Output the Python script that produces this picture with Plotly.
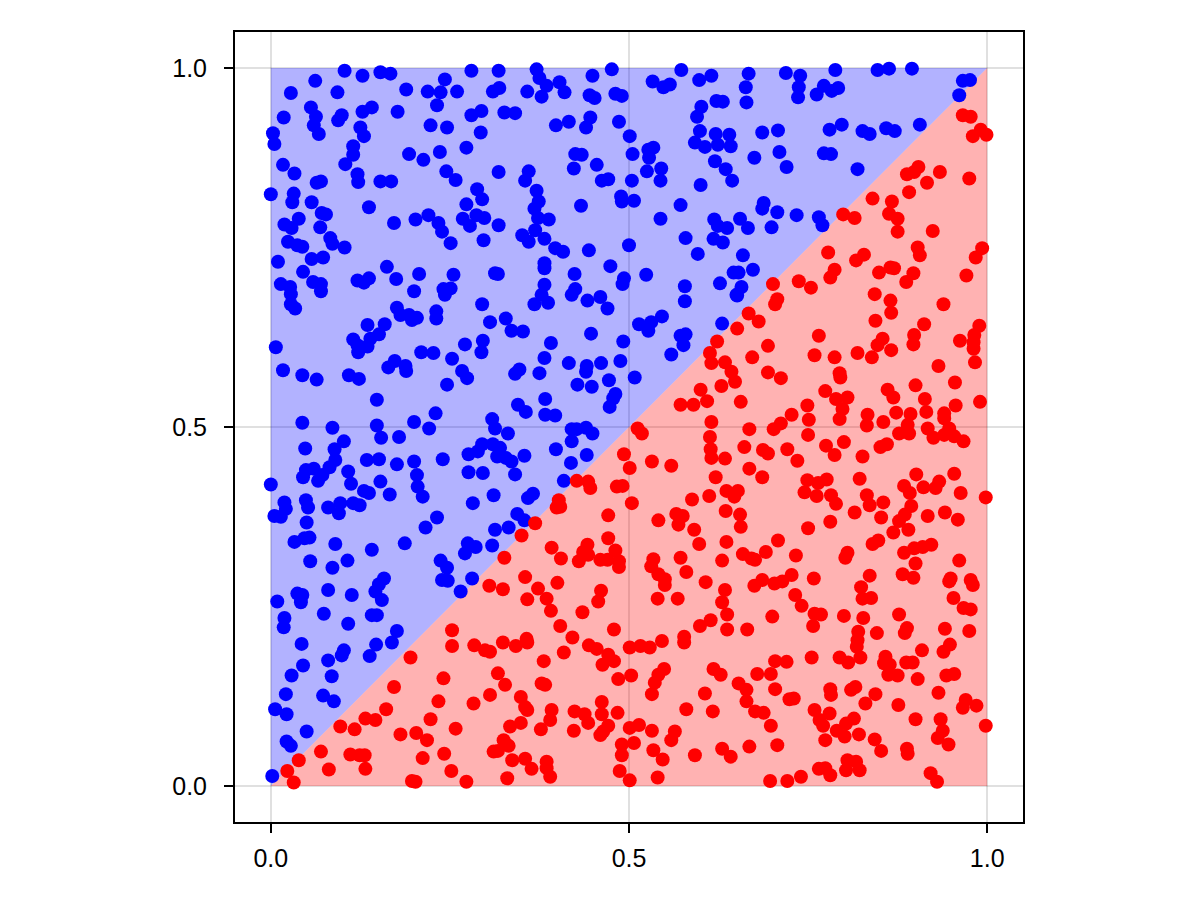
import plotly.graph_objects as go

# Band region definition (x grid and lower/upper boundaries)
band_x = [0.0, 1.0]
blue_lower = [0.0, 1.0]
blue_upper = [1.0, 1.0]
red_lower = [0.0, 0.0]
red_upper = [0.0, 1.0]

blue_pts = [
(0.103,0.996),(0.128,0.989),(0.153,0.994),(0.167,0.992),(0.062,0.982),(0.028,0.965),(0.093,0.966),(0.189,0.970),(0.219,0.967),(0.237,0.966),(0.243,0.984),(0.260,0.967),(0.280,0.996),(0.310,0.967),(0.232,0.948),(0.056,0.945),(0.018,0.931),(0.063,0.932),(0.060,0.920),(0.067,0.908),(0.099,0.934),(0.094,0.927),(0.128,0.939),(0.141,0.945),(0.177,0.939),(0.280,0.934),(0.294,0.940),(0.003,0.909),(0.005,0.894),(0.125,0.917),(0.130,0.905),(0.223,0.920),(0.246,0.917),(0.293,0.910),(0.115,0.891),(0.115,0.879),(0.104,0.866),(0.193,0.880),(0.213,0.872),(0.236,0.883),(0.273,0.889),(0.017,0.865),(0.033,0.853),(0.121,0.852),(0.122,0.841),(0.064,0.840),(0.070,0.842),(0.153,0.842),(0.168,0.842),(0.245,0.856),(0.258,0.844),(0.000,0.824),(0.032,0.825),(0.030,0.813),(0.057,0.813),(0.137,0.806),(0.071,0.798),(0.077,0.796),(0.288,0.831),(0.295,0.817),(0.273,0.810),(0.019,0.782),(0.029,0.777),(0.039,0.790),(0.069,0.778),(0.172,0.784),(0.202,0.789),(0.220,0.795),(0.234,0.784),(0.239,0.772),(0.268,0.790),(0.278,0.780),(0.287,0.795),(0.298,0.791),
(0.318,0.996),(0.319,0.972),(0.371,0.998),(0.375,0.986),(0.385,0.975),(0.403,0.980),(0.410,0.966),(0.358,0.967),(0.378,0.960),(0.449,0.989),(0.476,0.998),(0.445,0.962),(0.452,0.958),(0.481,0.964),(0.490,0.961),(0.326,0.938),(0.341,0.937),(0.398,0.920),(0.416,0.925),(0.446,0.931),(0.440,0.917),(0.486,0.925),(0.501,0.905),(0.573,0.997),(0.533,0.981),(0.548,0.973),(0.557,0.977),(0.598,0.983),(0.615,0.989),(0.622,0.954),(0.631,0.953),(0.601,0.946),(0.595,0.932),(0.599,0.912),(0.621,0.908),(0.640,0.907),(0.592,0.896),(0.606,0.890),(0.624,0.893),(0.642,0.891),(0.620,0.870),(0.635,0.859),(0.644,0.843),(0.600,0.837),(0.425,0.880),(0.434,0.879),(0.423,0.860),(0.455,0.865),(0.462,0.843),(0.471,0.845),(0.360,0.856),(0.355,0.843),(0.318,0.855),(0.505,0.880),(0.527,0.886),(0.534,0.889),(0.528,0.875),(0.525,0.856),(0.545,0.860),(0.544,0.843),(0.504,0.843),(0.371,0.829),(0.374,0.814),(0.368,0.804),(0.373,0.791),(0.388,0.789),(0.369,0.774),(0.351,0.767),(0.433,0.808),(0.489,0.821),(0.490,0.814),(0.507,0.815),(0.572,0.809),(0.544,0.790),(0.318,0.781),(0.619,0.789),(0.624,0.780),(0.637,0.777),
(0.667,0.992),(0.663,0.973),(0.664,0.952),(0.719,0.993),(0.739,0.989),(0.737,0.973),(0.736,0.959),(0.762,0.963),(0.772,0.975),(0.783,0.968),(0.792,0.972),(0.788,0.997),(0.847,0.997),(0.863,0.999),(0.895,0.999),(0.966,0.982),(0.976,0.983),(0.961,0.962),(0.686,0.910),(0.708,0.913),(0.780,0.914),(0.797,0.921),(0.826,0.912),(0.836,0.908),(0.859,0.916),(0.871,0.912),(0.906,0.921),(0.675,0.875),(0.710,0.883),(0.720,0.862),(0.772,0.881),(0.782,0.880),(0.819,0.859),(0.688,0.812),(0.686,0.804),(0.707,0.799),(0.734,0.795),(0.765,0.792),(0.770,0.781),(0.655,0.790),(0.666,0.777),(0.699,0.778),
(0.024,0.758),(0.037,0.753),(0.044,0.751),(0.083,0.763),(0.086,0.755),(0.103,0.750),(0.010,0.730),(0.057,0.734),(0.073,0.736),(0.045,0.716),(0.014,0.699),(0.027,0.695),(0.028,0.685),(0.059,0.702),(0.070,0.699),(0.070,0.689),(0.028,0.671),(0.034,0.665),(0.121,0.704),(0.130,0.701),(0.137,0.707),(0.162,0.723),(0.175,0.706),(0.207,0.713),(0.200,0.689),(0.251,0.756),(0.297,0.760),(0.255,0.712),(0.241,0.692),(0.251,0.693),(0.243,0.684),(0.313,0.714),(0.295,0.671),(0.306,0.646),(0.176,0.666),(0.181,0.656),(0.193,0.656),(0.204,0.652),(0.197,0.649),(0.231,0.661),(0.231,0.651),(0.135,0.642),(0.159,0.643),(0.151,0.629),(0.139,0.623),(0.135,0.612),(0.115,0.622),(0.121,0.614),(0.122,0.604),(0.007,0.611),(0.271,0.615),(0.296,0.620),(0.294,0.604),(0.210,0.604),(0.227,0.603),(0.253,0.595),(0.173,0.592),(0.164,0.583),(0.188,0.585),(0.189,0.578),(0.267,0.578),(0.274,0.568),(0.246,0.559),(0.017,0.579),(0.044,0.572),(0.064,0.566),(0.109,0.572),(0.123,0.567),(0.148,0.538),(0.230,0.519),
(0.360,0.758),(0.382,0.762),(0.397,0.749),(0.408,0.744),(0.444,0.746),(0.500,0.753),(0.382,0.728),(0.382,0.721),(0.317,0.713),(0.424,0.713),(0.474,0.724),(0.493,0.707),(0.491,0.699),(0.524,0.712),(0.382,0.698),(0.378,0.684),(0.368,0.671),(0.387,0.673),(0.425,0.692),(0.420,0.684),(0.442,0.676),(0.460,0.681),(0.470,0.665),(0.579,0.763),(0.618,0.762),(0.631,0.757),(0.596,0.741),(0.578,0.696),(0.578,0.675),(0.627,0.700),(0.646,0.715),(0.650,0.684),(0.328,0.651),(0.336,0.634),(0.352,0.633),(0.447,0.630),(0.391,0.617),(0.382,0.596),(0.375,0.575),(0.341,0.574),(0.347,0.580),(0.416,0.589),(0.441,0.585),(0.440,0.577),(0.461,0.589),(0.488,0.592),(0.492,0.619),(0.514,0.643),(0.531,0.646),(0.546,0.654),(0.527,0.634),(0.572,0.627),(0.579,0.629),(0.576,0.614),(0.559,0.601),(0.630,0.644),(0.508,0.569),(0.472,0.565),(0.428,0.559),(0.448,0.556),(0.481,0.546),(0.478,0.540),(0.473,0.528),(0.383,0.539),(0.345,0.531),(0.356,0.521),(0.383,0.517),(0.397,0.516),
(0.659,0.739),(0.653,0.715),(0.673,0.719),(0.657,0.695),(0.651,0.683),
(0.044,0.506),(0.086,0.499),(0.148,0.502),(0.154,0.485),(0.179,0.486),(0.200,0.507),(0.221,0.498),(0.309,0.511),(0.313,0.498),(0.048,0.470),(0.102,0.480),(0.089,0.469),(0.090,0.454),(0.082,0.444),(0.072,0.433),(0.066,0.425),(0.060,0.442),(0.049,0.440),(0.045,0.430),(0.108,0.438),(0.112,0.421),(0.134,0.454),(0.151,0.455),(0.176,0.448),(0.200,0.452),(0.204,0.433),(0.205,0.417),(0.212,0.403),(0.153,0.424),(0.130,0.411),(0.137,0.408),(0.166,0.406),(0.240,0.455),(0.276,0.462),(0.289,0.466),(0.295,0.476),(0.310,0.476),(0.316,0.459),(0.276,0.437),(0.296,0.436),(0.311,0.405),(0.282,0.394),(0.000,0.420),(0.019,0.395),(0.021,0.386),(0.005,0.376),(0.014,0.375),(0.049,0.398),(0.052,0.388),(0.080,0.388),(0.097,0.394),(0.095,0.380),(0.115,0.394),(0.124,0.391),(0.050,0.367),(0.033,0.340),(0.047,0.345),(0.054,0.346),(0.090,0.337),(0.055,0.313),(0.086,0.304),(0.107,0.314),(0.141,0.329),(0.187,0.338),(0.216,0.360),(0.232,0.374),(0.313,0.357),(0.275,0.338),(0.286,0.333),(0.309,0.335),(0.271,0.324),(0.237,0.314),(0.246,0.304),(0.239,0.287),(0.247,0.286),(0.281,0.289),(0.158,0.289),(0.151,0.281),(0.146,0.271),(0.080,0.273),(0.037,0.268),(0.044,0.266),(0.113,0.266),(0.265,0.271),
(0.331,0.491),(0.320,0.471),(0.328,0.457),(0.336,0.452),(0.354,0.460),(0.341,0.434),(0.359,0.401),(0.366,0.407),(0.344,0.379),(0.354,0.370),(0.332,0.360),(0.420,0.497),(0.427,0.497),(0.440,0.499),(0.449,0.491),(0.420,0.480),(0.398,0.469),(0.441,0.461),(0.419,0.450),(0.409,0.425),
(0.009,0.257),(0.042,0.256),(0.155,0.259),(0.019,0.234),(0.018,0.221),(0.074,0.240),(0.108,0.226),(0.141,0.238),(0.148,0.238),(0.176,0.216),(0.169,0.200),(0.147,0.197),(0.138,0.181),(0.043,0.198),(0.102,0.189),(0.099,0.182),(0.080,0.175),(0.045,0.168),(0.029,0.154),(0.085,0.153),(0.021,0.128),(0.073,0.126),(0.088,0.118),(0.006,0.107),(0.022,0.100),(0.050,0.076),(0.022,0.062),(0.028,0.056),(0.002,0.014),
]

red_pts = [
(0.966,0.934),(0.977,0.932),(0.991,0.914),(0.980,0.905),(0.999,0.907),(0.888,0.852),(0.898,0.855),(0.904,0.862),(0.934,0.855),(0.916,0.840),(0.891,0.827),(0.975,0.846),(0.840,0.818),(0.867,0.814),(0.863,0.797),(0.875,0.790),(0.875,0.772),(0.924,0.773),(0.799,0.796),(0.815,0.791),
(0.623,0.619),(0.613,0.603),(0.615,0.589),(0.634,0.590),(0.643,0.577),(0.648,0.563),(0.629,0.557),(0.600,0.552),(0.609,0.536),(0.572,0.531),(0.590,0.531),
(0.778,0.743),(0.817,0.732),(0.828,0.740),(0.903,0.750),(0.906,0.739),(0.984,0.736),(0.993,0.749),(0.701,0.699),(0.737,0.703),(0.754,0.694),(0.781,0.708),(0.787,0.719),(0.849,0.715),(0.865,0.722),(0.870,0.721),(0.887,0.702),(0.897,0.714),(0.971,0.711),(0.707,0.678),(0.704,0.671),(0.667,0.658),(0.681,0.647),(0.651,0.637),(0.843,0.685),(0.865,0.676),(0.866,0.659),(0.844,0.648),(0.939,0.671),(0.912,0.643),(0.898,0.628),(0.897,0.615),(0.962,0.620),(0.989,0.641),(0.982,0.628),(0.981,0.618),(0.981,0.609),(0.983,0.590),(0.765,0.627),(0.694,0.613),(0.672,0.597),(0.759,0.600),(0.787,0.597),(0.819,0.603),(0.839,0.597),(0.847,0.614),(0.854,0.623),(0.866,0.607),(0.932,0.585),(0.955,0.562),(0.694,0.576),(0.712,0.568),(0.794,0.575),(0.795,0.569),(0.656,0.535),(0.774,0.550),(0.789,0.539),(0.805,0.541),(0.798,0.525),(0.861,0.552),(0.869,0.541),(0.900,0.558),(0.913,0.539),(0.956,0.530),(0.990,0.535),(0.749,0.530),(0.727,0.517),(0.833,0.517),(0.873,0.520),(0.893,0.518),(0.915,0.521),(0.940,0.519),
(0.512,0.498),(0.518,0.491),(0.615,0.507),(0.613,0.486),(0.614,0.469),(0.615,0.457),(0.634,0.456),(0.493,0.462),(0.501,0.443),(0.532,0.452),(0.559,0.446),(0.621,0.430),(0.427,0.425),(0.443,0.424),(0.446,0.415),(0.483,0.417),(0.491,0.418),(0.504,0.394),(0.402,0.398),(0.404,0.389),(0.399,0.388),(0.612,0.404),(0.588,0.399),(0.636,0.411),(0.647,0.403),(0.471,0.377),(0.369,0.366),(0.350,0.349),(0.326,0.318),(0.392,0.332),(0.405,0.317),(0.430,0.313),(0.436,0.326),(0.442,0.336),(0.443,0.322),(0.460,0.315),(0.470,0.315),(0.471,0.345),(0.481,0.328),(0.486,0.313),(0.486,0.305),(0.541,0.370),(0.566,0.379),(0.575,0.376),(0.569,0.364),(0.591,0.357),(0.635,0.383),(0.598,0.337),(0.636,0.340),(0.630,0.314),(0.572,0.318),(0.580,0.298),(0.534,0.316),(0.531,0.306),(0.541,0.295),(0.550,0.288),(0.550,0.280),(0.607,0.284),(0.634,0.273),(0.355,0.291),(0.373,0.275),(0.400,0.283),(0.324,0.274),(0.461,0.272),
(0.305,0.279),
(0.751,0.510),(0.794,0.511),(0.832,0.502),(0.855,0.507),(0.889,0.503),(0.891,0.491),(0.877,0.491),(0.917,0.498),(0.925,0.485),(0.940,0.512),(0.947,0.498),(0.940,0.489),(0.954,0.487),(0.967,0.480),(0.668,0.497),(0.702,0.497),(0.712,0.505),(0.750,0.489),(0.661,0.472),(0.687,0.468),(0.694,0.463),(0.721,0.469),(0.735,0.453),(0.775,0.474),(0.787,0.461),(0.800,0.479),(0.826,0.459),(0.851,0.472),(0.860,0.476),(0.668,0.442),(0.686,0.430),(0.749,0.426),(0.764,0.422),(0.776,0.427),(0.745,0.409),(0.762,0.404),(0.782,0.405),(0.789,0.393),(0.652,0.411),(0.822,0.428),(0.832,0.405),(0.836,0.391),(0.855,0.395),(0.901,0.434),(0.884,0.418),(0.892,0.408),(0.911,0.416),(0.928,0.415),(0.933,0.424),(0.954,0.435),(0.963,0.408),(0.998,0.402),(0.894,0.390),(0.885,0.378),(0.877,0.369),(0.852,0.374),(0.815,0.381),(0.781,0.368),(0.750,0.359),(0.655,0.378),(0.656,0.361),(0.917,0.376),(0.941,0.381),(0.959,0.371),(0.890,0.357),(0.869,0.353),(0.708,0.342),(0.848,0.342),(0.840,0.337),(0.659,0.323),(0.671,0.317),(0.676,0.315),(0.691,0.326),(0.733,0.321),(0.805,0.325),(0.802,0.318),(0.884,0.325),(0.898,0.331),(0.910,0.333),(0.922,0.336),(0.900,0.310),(0.961,0.314),(0.882,0.295),(0.897,0.290),(0.836,0.293),(0.758,0.289),(0.727,0.294),(0.686,0.287),(0.675,0.279),(0.703,0.282),(0.714,0.285),(0.824,0.277),(0.732,0.266),(0.949,0.289),(0.947,0.285),(0.977,0.287),(0.980,0.280),
(0.253,0.217),(0.253,0.195),(0.284,0.196),(0.299,0.189),(0.306,0.187),(0.195,0.179),(0.172,0.138),(0.241,0.150),(0.234,0.118),(0.283,0.115),(0.306,0.127),(0.161,0.107),(0.132,0.094),(0.146,0.092),(0.097,0.083),(0.117,0.079),(0.223,0.093),(0.258,0.080),(0.181,0.072),(0.203,0.074),(0.218,0.064),(0.070,0.048),(0.111,0.044),(0.124,0.043),(0.131,0.043),(0.039,0.036),(0.023,0.021),(0.032,0.005),(0.081,0.023),(0.132,0.024),(0.212,0.039),(0.242,0.045),(0.252,0.021),(0.197,0.007),(0.202,0.006),(0.273,0.006),(0.311,0.048),
(0.358,0.260),(0.385,0.261),(0.391,0.244),(0.435,0.242),(0.457,0.257),(0.404,0.223),(0.421,0.207),(0.324,0.200),(0.342,0.195),(0.357,0.205),(0.358,0.200),(0.409,0.186),(0.381,0.174),(0.444,0.196),(0.455,0.191),(0.471,0.183),(0.479,0.174),(0.463,0.169),(0.479,0.218),(0.485,0.149),(0.501,0.193),(0.516,0.195),(0.529,0.193),(0.546,0.202),(0.503,0.154),(0.540,0.261),(0.568,0.261),(0.577,0.208),(0.577,0.200),(0.599,0.223),(0.614,0.231),(0.630,0.256),(0.637,0.239),(0.637,0.218),(0.317,0.157),(0.327,0.141),(0.378,0.143),(0.383,0.141),(0.349,0.124),(0.355,0.110),(0.358,0.106),(0.392,0.106),(0.390,0.092),(0.377,0.079),(0.334,0.083),(0.349,0.088),(0.424,0.104),(0.438,0.100),(0.443,0.088),(0.423,0.077),(0.462,0.117),(0.462,0.100),(0.484,0.102),(0.471,0.084),(0.460,0.071),(0.464,0.076),(0.501,0.081),(0.514,0.085),(0.532,0.077),(0.549,0.163),(0.541,0.155),(0.536,0.144),(0.532,0.128),(0.618,0.163),(0.628,0.155),(0.606,0.129),(0.580,0.107),(0.617,0.104),(0.325,0.064),(0.332,0.056),(0.317,0.049),(0.337,0.036),(0.355,0.038),(0.364,0.024),(0.385,0.034),(0.385,0.025),(0.390,0.013),(0.330,0.011),(0.490,0.058),(0.490,0.043),(0.507,0.060),(0.487,0.021),(0.501,0.008),(0.534,0.050),(0.547,0.037),(0.540,0.012),(0.564,0.076),(0.559,0.064),(0.592,0.043),(0.630,0.052),(0.642,0.041),
(0.741,0.251),(0.826,0.261),(0.838,0.262),(0.953,0.262),(0.967,0.248),(0.977,0.246),(0.700,0.236),(0.665,0.218),(0.759,0.240),(0.768,0.239),(0.757,0.223),(0.800,0.237),(0.827,0.234),(0.877,0.239),(0.888,0.220),(0.885,0.213),(0.941,0.219),(0.975,0.216),(0.820,0.215),(0.819,0.203),(0.818,0.194),(0.846,0.213),(0.909,0.189),(0.948,0.197),(0.939,0.187),(0.704,0.174),(0.720,0.173),(0.755,0.179),(0.794,0.179),(0.806,0.172),(0.823,0.179),(0.858,0.180),(0.856,0.171),(0.864,0.169),(0.887,0.172),(0.896,0.172),(0.679,0.156),(0.698,0.156),(0.862,0.155),(0.875,0.154),(0.903,0.149),(0.943,0.154),(0.954,0.156),(0.653,0.143),(0.664,0.134),(0.664,0.118),(0.704,0.135),(0.724,0.121),(0.730,0.122),(0.781,0.135),(0.782,0.127),(0.810,0.134),(0.816,0.138),(0.844,0.128),(0.830,0.115),(0.876,0.113),(0.932,0.130),(0.970,0.120),(0.966,0.109),(0.985,0.112),(0.676,0.104),(0.688,0.102),(0.698,0.084),(0.759,0.106),(0.780,0.101),(0.766,0.092),(0.771,0.084),(0.803,0.087),(0.814,0.094),(0.790,0.077),(0.801,0.069),(0.821,0.072),(0.774,0.064),(0.900,0.093),(0.935,0.093),(0.938,0.077),(0.931,0.067),(0.946,0.058),(0.998,0.084),(0.843,0.065),(0.852,0.049),(0.888,0.052),(0.889,0.045),(0.668,0.055),(0.707,0.057),(0.805,0.036),(0.817,0.034),(0.822,0.022),(0.803,0.022),(0.765,0.024),(0.774,0.025),(0.781,0.015),(0.740,0.013),(0.721,0.007),(0.697,0.007),(0.921,0.018),(0.930,0.006),
]

tick_vals = [0.0, 0.5, 1.0]
tick_text = ["0.0", "0.5", "1.0"]

blue_x = [p[0] for p in blue_pts]
blue_y = [p[1] for p in blue_pts]
red_x = [p[0] for p in red_pts]
red_y = [p[1] for p in red_pts]

fig = go.Figure()
# blue band (upper triangle)
fig.add_trace(go.Scatter(x=band_x, y=blue_lower, mode="lines", line=dict(width=0),
                         showlegend=False, hoverinfo="skip"))
fig.add_trace(go.Scatter(x=band_x, y=blue_upper, mode="lines", line=dict(width=0),
                         fill="tonexty", fillcolor="rgba(0,0,255,0.3)",
                         showlegend=False, hoverinfo="skip"))
# red band (lower triangle)
fig.add_trace(go.Scatter(x=band_x, y=red_lower, mode="lines", line=dict(width=0),
                         showlegend=False, hoverinfo="skip"))
fig.add_trace(go.Scatter(x=band_x, y=red_upper, mode="lines", line=dict(width=0),
                         fill="tonexty", fillcolor="rgba(255,0,0,0.3)",
                         showlegend=False, hoverinfo="skip"))

fig.add_trace(go.Scatter(x=blue_x, y=blue_y, mode="markers",
                         marker=dict(color="#0000ff", size=14, line=dict(width=0)),
                         showlegend=False))
fig.add_trace(go.Scatter(x=red_x, y=red_y, mode="markers",
                         marker=dict(color="#ff0000", size=14, line=dict(width=0)),
                         showlegend=False))

axis_common = dict(
    range=[-0.05, 1.05],
    tickvals=tick_vals,
    ticktext=tick_text,
    showgrid=True,
    gridcolor="rgba(0,0,0,0.12)",
    gridwidth=2,
    zeroline=False,
    showline=True,
    linecolor="black",
    linewidth=2,
    mirror=True,
    ticks="outside",
    ticklen=9,
    tickwidth=2,
    tickcolor="black",
    tickfont=dict(family="Liberation Sans, Arial, sans-serif", size=25, color="black"),
)

fig.update_layout(
    width=1200,
    height=900,
    margin=dict(l=227, r=185, t=24, b=86),
    plot_bgcolor="white",
    paper_bgcolor="white",
    xaxis=dict(axis_common, ticklabelstandoff=4),
    yaxis=dict(axis_common, ticklabelstandoff=12),
    showlegend=False,
)

fig.write_html("out.html")
